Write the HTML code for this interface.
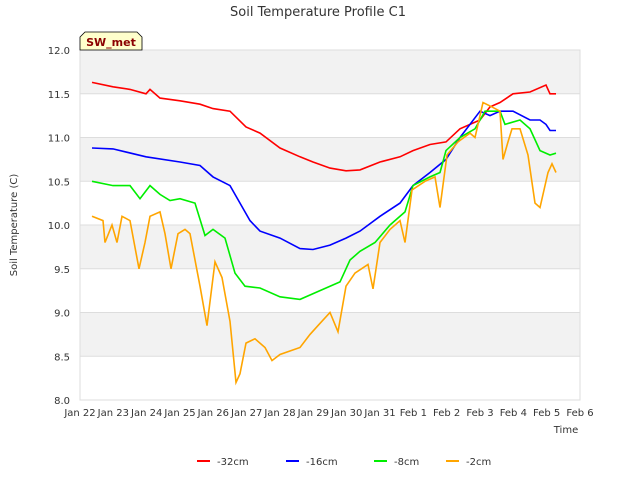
<!DOCTYPE html>
<html><head><meta charset="utf-8">
<style>
body{margin:0;background:#fff;font-family:"Liberation Sans","DejaVu Sans",sans-serif;}
svg text{font-family:"DejaVu Sans","Liberation Sans",sans-serif;}
</style></head>
<body>
<svg id="chart" width="640" height="480" viewBox="0 0 640 480">
<text x="318" y="16" text-anchor="middle" font-size="13" fill="#333">Soil Temperature Profile C1</text>
<g id="bands"></g>
<g id="grid"></g>
<g id="ticks"></g>
<g id="series"></g>
<text transform="translate(17,225) rotate(-90)" text-anchor="middle" font-size="10" fill="#333">Soil Temperature (C)</text>
<text x="566" y="433" text-anchor="middle" font-size="10" fill="#333">Time</text>
<g>
<path d="M80,50 L80,37 L85,32 L137,32 L142,37 L142,50 Z" fill="#ffffcc" stroke="#000" stroke-width="0.8"/>
<text x="111" y="46" text-anchor="middle" font-size="11" font-weight="bold" fill="#8b0000">SW_met</text>
</g>
<g id="legend"></g>
</svg>
<script>
const yTicks=[8.0,8.5,9.0,9.5,10.0,10.5,11.0,11.5,12.0];
const xTickLabels=["Jan 22","Jan 23","Jan 24","Jan 25","Jan 26","Jan 27","Jan 28","Jan 29","Jan 30","Jan 31","Feb 1","Feb 2","Feb 3","Feb 4","Feb 5","Feb 6"];
const seriesNames=["-32cm","-16cm","-8cm","-2cm"];
const seriesColors=["#ff0000","#0000ff","#00ee00","#ffa500"];
const redDays=[0.36,0.99,1.5,1.98,2.1,2.4,3.0,3.6,3.99,4.5,4.98,5.4,6.0,6.6,6.99,7.5,7.98,8.4,9.0,9.6,9.99,10.5,10.98,11.4,12.0,12.3,12.6,12.99,13.5,13.98,14.1,14.28];
const redVals=[11.63,11.58,11.55,11.5,11.55,11.45,11.42,11.38,11.33,11.3,11.12,11.05,10.88,10.78,10.72,10.65,10.62,10.63,10.72,10.78,10.85,10.92,10.95,11.1,11.2,11.35,11.4,11.5,11.52,11.6,11.5,11.5];
const blueDays=[0.36,0.99,1.98,3.0,3.6,3.99,4.5,4.8,5.1,5.4,6.0,6.6,6.99,7.5,7.98,8.4,9.0,9.6,9.99,10.5,10.98,11.4,12.0,12.3,12.6,12.99,13.5,13.8,13.98,14.1,14.28];
const blueVals=[10.88,10.87,10.78,10.72,10.68,10.55,10.45,10.25,10.05,9.93,9.85,9.73,9.72,9.77,9.85,9.93,10.1,10.25,10.45,10.6,10.75,11.0,11.3,11.25,11.3,11.3,11.2,11.2,11.15,11.08,11.08];
const greenDays=[0.36,0.99,1.5,1.8,2.1,2.4,2.7,3.0,3.45,3.75,3.99,4.35,4.65,4.95,5.4,6.0,6.6,7.2,7.8,8.1,8.4,8.85,9.3,9.75,9.99,10.5,10.8,10.98,11.4,11.85,12.15,12.6,12.75,13.2,13.5,13.8,14.1,14.28];
const greenVals=[10.5,10.45,10.45,10.3,10.45,10.35,10.28,10.3,10.25,9.88,9.95,9.85,9.45,9.3,9.28,9.18,9.15,9.25,9.35,9.6,9.7,9.8,10.0,10.15,10.45,10.55,10.6,10.85,11.0,11.1,11.3,11.3,11.15,11.2,11.1,10.85,10.8,10.82];
const orangeDays=[0.36,0.69,0.75,0.96,1.11,1.26,1.5,1.77,1.95,2.1,2.4,2.55,2.73,2.94,3.15,3.3,3.6,3.81,4.05,4.26,4.5,4.68,4.8,4.98,5.25,5.55,5.76,6.0,6.6,6.9,7.14,7.5,7.74,7.98,8.25,8.64,8.79,9.0,9.3,9.6,9.75,9.96,10.35,10.65,10.8,11.01,11.34,11.7,11.85,12.09,12.36,12.6,12.69,12.84,12.96,13.2,13.44,13.65,13.8,14.04,14.16,14.28];
const orangeVals=[10.1,10.05,9.8,10.0,9.8,10.1,10.05,9.5,9.8,10.1,10.15,9.9,9.5,9.9,9.95,9.9,9.3,8.85,9.58,9.4,8.9,8.2,8.3,8.65,8.7,8.6,8.45,8.52,8.6,8.75,8.85,9.0,8.78,9.3,9.45,9.55,9.27,9.8,9.95,10.05,9.8,10.4,10.5,10.55,10.2,10.8,10.95,11.05,11.0,11.4,11.35,11.3,10.75,10.95,11.1,11.1,10.8,10.25,10.2,10.6,10.7,10.6];

const NS="http://www.w3.org/2000/svg";
const L=80,R=580,T=50,B=400;
function xs(d){return L+(R-L)*d/15;}
function ys(v){return B-(B-T)*(v-8)/4;}
function mk(tag,attrs,parent){const e=document.createElementNS(NS,tag);for(const k in attrs)e.setAttribute(k,attrs[k]);parent.appendChild(e);return e;}
const bands=document.getElementById('bands');
for(let i=0;i<yTicks.length-1;i++){
  const r=mk('rect',{x:L,y:ys(yTicks[i+1]),width:R-L,height:ys(yTicks[i])-ys(yTicks[i+1]),fill:(i%2===1)?'#f2f2f2':'#ffffff'},bands);
  
  
}
const grid=document.getElementById('grid');
mk('rect',{x:L,y:T,width:R-L,height:B-T,fill:'none',stroke:'#ddd'},grid);
const ticks=document.getElementById('ticks');
yTicks.forEach(v=>{
  mk('line',{x1:L,x2:R,y1:ys(v),y2:ys(v),stroke:'#ddd'},grid);
  const t=mk('text',{x:L-10,y:ys(v)+4,'text-anchor':'end','font-size':10,fill:'#333'},ticks);
  t.textContent=v.toFixed(1);
  
  
});
xTickLabels.forEach((s,i)=>{
  const t=mk('text',{x:xs(i),y:416,'text-anchor':'middle','font-size':10,fill:'#333'},ticks);
  t.textContent=s;
  
  
});
const sg=document.getElementById('series');
const allDays=[redDays,blueDays,greenDays,orangeDays];
const allVals=[redVals,blueVals,greenVals,orangeVals];
for(let s=0;s<4;s++){
  const pts=allDays[s].map((d,i)=>xs(d).toFixed(1)+','+ys(allVals[s][i]).toFixed(1)).join(' ');
  const p=mk('polyline',{points:pts,fill:'none',stroke:seriesColors[s],'stroke-width':1.6},sg);
  
  
}
const lg=document.getElementById('legend');
const lx=[197,286,374,446];
seriesNames.forEach((n,i)=>{
  const g=mk('g',{},lg);
  
  
  mk('line',{x1:lx[i],x2:lx[i]+13,y1:461,y2:461,stroke:seriesColors[i],'stroke-width':2},g);
  const t=mk('text',{x:lx[i]+20,y:465,'font-size':10,fill:'#333'},g);
  t.textContent=n;
});
</script>
</body></html>
